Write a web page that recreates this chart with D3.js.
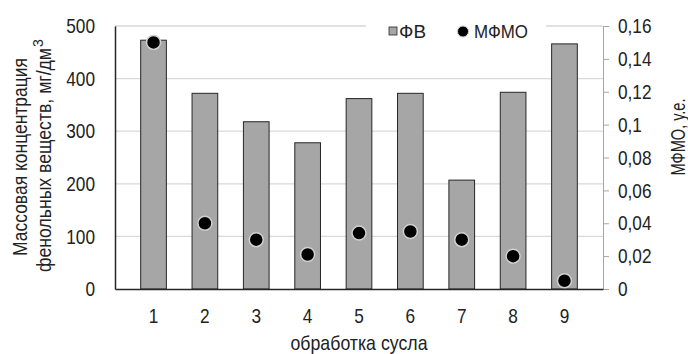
<!DOCTYPE html>
<html>
  <head>
    <meta charset="utf-8">
    <title>ФВ и МФМО</title>
    <script src="https://d3js.org/d3.v7.min.js"></script>
    <style>
      body { margin: 0; background: #fff; }
      svg { display: block; font-family: "Liberation Sans", Arial, sans-serif; }
      text { fill: #222; }
    </style>
  </head>
  <body>
    <svg id="chart" width="688" height="354"></svg>
    <script>
      // data
      const categories = ["1", "2", "3", "4", "5", "6", "7", "8", "9"];
      const fvValues = [473, 372, 318, 278, 362, 372, 207, 374, 466];
      const mfmoValues = [0.15, 0.04, 0.03, 0.021, 0.034, 0.035, 0.03, 0.02, 0.005];
      const leftTicks = [0, 100, 200, 300, 400, 500];
      const rightTicks = [0, 0.02, 0.04, 0.06, 0.08, 0.1, 0.12, 0.14, 0.16];

      const margin = { top: 26, right: 85, bottom: 65, left: 115 };
      const width = 688, height = 354;
      const squeeze = 0.82; // no narrow font installed, so squeeze Liberation Sans
      const chart = d3.select("#chart");

      // squeeze text horizontally, keeping its anchor point
      function narrow(sel) {
        sel.each(function() {
          const t = d3.select(this);
          const x0 = +(t.attr("x") || 0);
          t.attr("x", x0 / squeeze)
            .attr("transform", (t.attr("transform") || "") + " scale(" + squeeze + ",1)");
        });
      }
      // force a text run to a given length
      function fit(sel, len) {
        sel.attr("textLength", len).attr("lengthAdjust", "spacingAndGlyphs");
      }

      const x = d3.scaleBand()
        .domain(categories)
        .range([margin.left, width - margin.right])
        .padding(0.5);
      const y = d3.scaleLinear()
        .domain([0, 500])
        .range([height - margin.bottom, margin.top]);
      const y2 = d3.scaleLinear()
        .domain([0, 0.16])
        .range([height - margin.bottom, margin.top]);

      // gridlines
      chart.append("g")
        .selectAll("line")
        .data(leftTicks.slice(1))
        .enter().append("line")
          .attr("x1", margin.left)
          .attr("x2", width - margin.right)
          .attr("y1", d => y(d))
          .attr("y2", d => y(d))
          .attr("stroke", "#d9d9d9")
          .attr("stroke-width", 1.3);

      // bars
      chart.append("g")
        .selectAll("rect")
        .data(fvValues)
        .enter().append("rect")
          .attr("x", (d, i) => x(categories[i]))
          .attr("width", x.bandwidth())
          .attr("y", d => y(d))
          .attr("height", d => y(0) - y(d))
          .attr("fill", "#a6a6a6")
          .attr("stroke", "#262626")
          .attr("stroke-width", 1);

      // points
      chart.append("g")
        .selectAll("circle")
        .data(mfmoValues)
        .enter().append("circle")
          .attr("cx", (d, i) => x(categories[i]) + x.bandwidth() / 2)
          .attr("cy", d => y2(d))
          .attr("r", 7)
          .attr("fill", "#000")
          .attr("stroke", "#d0d0d0")
          .attr("stroke-width", 1.5);

      // axes
      const yAxis = d3.axisLeft(y).tickValues(leftTicks).tickSize(0).tickPadding(20);
      const y2Axis = d3.axisRight(y2).tickValues(rightTicks)
        .tickFormat(d => String(+d.toFixed(2)).replace(".", ","))
        .tickSizeInner(6).tickSizeOuter(0).tickPadding(9);
      const xAxis = d3.axisBottom(x).tickSize(0).tickPadding(19);

      const yAxisGroup = chart.append("g")
        .attr("transform", "translate(" + margin.left + ",0)")
        .call(yAxis);
      yAxisGroup.select(".domain").attr("stroke", "#262626").attr("stroke-width", 1.5);

      const y2AxisGroup = chart.append("g")
        .attr("transform", "translate(" + (width - margin.right) + ",0)")
        .call(y2Axis);
      y2AxisGroup.selectAll("line, .domain").attr("stroke", "#a6a6a6");

      const xAxisGroup = chart.append("g")
        .attr("transform", "translate(0," + (height - margin.bottom) + ")")
        .call(xAxis);
      xAxisGroup.select(".domain").attr("stroke", "#262626").attr("stroke-width", 1.5);

      chart.selectAll(".tick text")
        .attr("font-size", 21)
        .attr("font-family", null)
        .attr("fill", "#222")
        .call(narrow);

      // axis titles
      chart.append("text")
        .attr("transform", "translate(26.5,157) rotate(-90)")
        .attr("text-anchor", "middle")
        .attr("font-size", 21)
        .text("Массовая концентрация")
        .call(fit, 198);
      const line2 = chart.append("g")
        .attr("transform", "translate(50.5,156) rotate(-90)");
      line2.append("text")
        .attr("x", -116)
        .attr("font-size", 21)
        .text("фенольных веществ, мг/дм")
        .call(fit, 224);
      line2.append("text")
        .attr("x", 109)
        .attr("y", -8)
        .attr("font-size", 14)
        .text("3");

      chart.append("text")
        .attr("transform", "translate(685,137) rotate(-90)")
        .attr("text-anchor", "middle")
        .attr("font-size", 21)
        .text("МФМО, у.е.")
        .call(fit, 77);

      chart.append("text")
        .attr("x", (margin.left + width - margin.right) / 2)
        .attr("y", 350)
        .attr("text-anchor", "middle")
        .attr("font-size", 21)
        .text("обработка сусла")
        .call(fit, 137);

      // legend
      const legend = chart.append("g");
      legend.append("rect")
        .attr("x", 366).attr("y", 14).attr("width", 180).attr("height", 26)
        .attr("fill", "#fff");
      legend.append("rect")
        .attr("x", 389).attr("y", 27).attr("width", 8).attr("height", 8)
        .attr("fill", "#a6a6a6").attr("stroke", "#262626").attr("stroke-width", 0.8);
      legend.append("text")
        .attr("x", 399).attr("y", 37.5).attr("font-size", 19)
        .text("ФВ")
        .call(fit, 27);
      legend.append("circle")
        .attr("cx", 463).attr("cy", 31.5).attr("r", 5.5)
        .attr("fill", "#000").attr("stroke", "#d0d0d0").attr("stroke-width", 1);
      legend.append("text")
        .attr("x", 474).attr("y", 37.5).attr("font-size", 19)
        .text("МФМО")
        .call(fit, 54);
    </script>
  </body>
</html>
